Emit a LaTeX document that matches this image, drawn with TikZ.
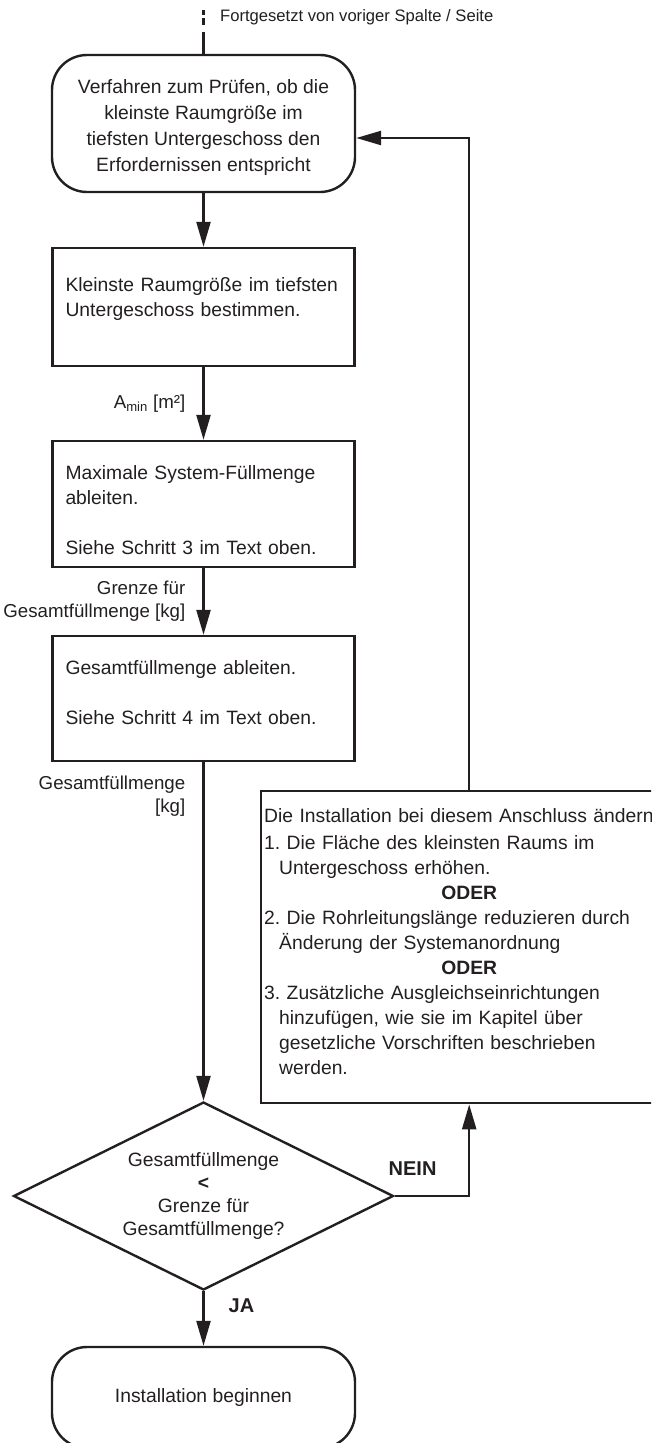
\documentclass[tikz,border=0pt]{standalone}
\usepackage{fontspec}
\setmainfont{Liberation Sans}
\usetikzlibrary{arrows.meta,shapes.geometric,positioning}
\definecolor{ink}{HTML}{231F20}
\frenchspacing
% struts to move a block of text up or down inside its box
\newcommand{\padtop}[1]{\rule{0pt}{#1}}
\newcommand{\padbot}[1]{\rule[-#1]{0pt}{#1}}

\begin{document}
\begin{tikzpicture}[x=1pt,y=1pt,->,>={Triangle[length=25pt,width=14pt]},
  line width=2.4pt,color=ink,
  stepbox/.style={rectangle,draw,text width=276pt,inner xsep=13pt,align=left,
    font=\fontsize{19.3}{25}\selectfont},
  endbox/.style={rectangle,draw,rounded corners=35pt,minimum width=303pt,align=center,
    font=\fontsize{19.3}{26}\selectfont},
  checkbox/.style={diamond,draw,aspect=2,minimum width=380pt,minimum height=188pt,
    inner sep=0pt,align=center,font=\fontsize{19.3}{23.3}\selectfont},
  flowlabel/.style={inner sep=0pt,align=right,font=\fontsize{18.7}{23}\selectfont},
  answer/.style={inner sep=0pt,font=\fontsize{20}{24}\selectfont\bfseries}]
\useasboundingbox (0,0) rectangle (651,-1443);
\clip (0,0) rectangle (651,-1443);

\coordinate (cont) at (203.5,-10);
\node[inner sep=0pt,anchor=west,font=\fontsize{16.6}{20}\selectfont] (contnote) at (219,-17)
  {Fortgesetzt von voriger Spalte / Seite};

\node[endbox,minimum height=137pt] (start) at (203.5,-123.5)
  {\padtop{22pt}Verfahren zum Prüfen, ob die\\ kleinste Raumgröße im\\
   tiefsten Untergeschoss den\\ Erfordernissen entspricht};
\node[stepbox,minimum height=118pt] (klein) [node distance=183.5pt,below of=start]
  {Kleinste Raumgröße im tiefsten\\ Untergeschoss bestimmen.\padbot{20.5pt}};
\node[stepbox,minimum height=126pt] (max) [node distance=197pt,below of=klein]
  {\padtop{26pt}Maximale System-Füllmenge\\ ableiten.\\[25pt] Siehe Schritt 3 im Text oben.};
\node[stepbox,minimum height=125pt] (gesamt) [node distance=194.5pt,below of=max]
  {Gesamtfüllmenge ableiten.\\[25pt] Siehe Schritt 4 im Text oben.\padbot{13pt}};
\node[checkbox] (check) [node distance=497.5pt,below of=gesamt]
  {Gesamtfüllmenge\\ \textbf{<}\\ Grenze für\\ Gesamtfüllmenge?};
\node[endbox,minimum height=101pt] (finish) [node distance=201.5pt,below of=check]
  {Installation beginnen};

% what to change when the charge is too large
\node[stepbox,anchor=north west,text width=410pt,inner xsep=3pt,minimum height=312pt]
  (aendern) at (260,-790)
  {Die Installation bei diesem Anschluss ändern\\[2pt]
   1. Die Fläche des kleinsten Raums im\\
   \hspace*{15pt}Untergeschoss erhöhen.\\
   \makebox[\linewidth]{\bfseries ODER}\\
   2. Die Rohrleitungslänge reduzieren durch\\
   \hspace*{15pt}Änderung der Systemanordnung\\
   \makebox[\linewidth]{\bfseries ODER}\\
   3. Zusätzliche Ausgleichseinrichtungen\\
   \hspace*{15pt}hinzufügen, wie sie im Kapitel über\\
   \hspace*{15pt}gesetzliche Vorschriften beschrieben\\
   \hspace*{15pt}werden.\padbot{11pt}};

\draw[-,dash pattern=on 5pt off 3pt on 7pt off 7pt on 40pt off 5pt] (cont) -- (start);
\draw (start) -- (klein);
\draw (klein) -- node[flowlabel,left=17pt] {A\textsubscript{min} [m²]} (max);
\draw (max) -- node[flowlabel,left=17pt] {Grenze für\\ Gesamtfüllmenge [kg]} (gesamt);
\draw (gesamt) -- node[flowlabel,pos=0.1,left=17pt] {Gesamtfüllmenge\\ {[kg]}} (check);
\draw (check) -- node[answer,pos=0.26,right=24pt] {JA} (finish);
\draw (check.east) -| node[answer,pos=0.12,above=19pt] {NEIN} (aendern.south);
\draw (aendern.north) |- ([yshift=-14.5pt]start.east);
\end{tikzpicture}
\end{document}
